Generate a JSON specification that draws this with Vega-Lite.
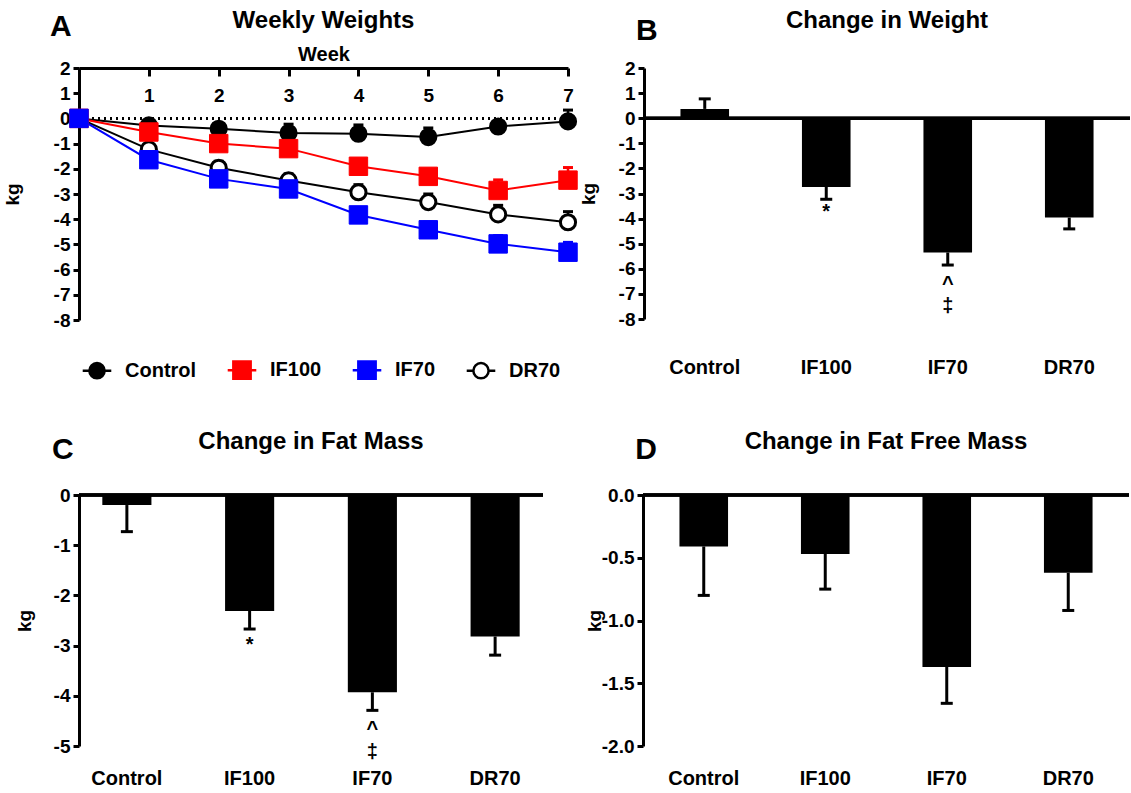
{
  "$schema": "https://vega.github.io/schema/vega-lite/v6.json",
  "padding": {"left": 3, "top": 8, "right": 0, "bottom": 0},
  "background": "white",
  "config": {
    "font": "Liberation Sans",
    "view": {"stroke": null},
    "title": {"font": "Liberation Sans", "fontSize": 24, "fontWeight": "bold", "color": "black"},
    "axis": {"labelFont": "Liberation Sans", "labelFontSize": 19, "labelFontWeight": "bold", "labelColor": "black", "titleFont": "Liberation Sans", "titleFontSize": 19, "titleFontWeight": "bold", "titleColor": "black", "domainColor": "black", "domainWidth": 3, "tickColor": "black", "tickWidth": 3, "tickSize": 7, "grid": false, "labelPadding": 3, "labelOverlap": false},
    "legend": {"labelFont": "Liberation Sans", "labelFontSize": 20, "labelFontWeight": "bold", "labelColor": "black"}
  },
  "datasets": {
    "weekly": [
      {"week": 0, "group": "Control", "kg": 0, "errEnd": 0},
      {"week": 1, "group": "Control", "kg": -0.28, "errEnd": -0.08},
      {"week": 2, "group": "Control", "kg": -0.41, "errEnd": -0.21},
      {"week": 3, "group": "Control", "kg": -0.58, "errEnd": -0.23},
      {"week": 4, "group": "Control", "kg": -0.61, "errEnd": -0.26},
      {"week": 5, "group": "Control", "kg": -0.74, "errEnd": -0.38},
      {"week": 6, "group": "Control", "kg": -0.32, "errEnd": -0.12},
      {"week": 7, "group": "Control", "kg": -0.12, "errEnd": 0.33},
      {"week": 0, "group": "DR70", "kg": 0, "errEnd": 0},
      {"week": 1, "group": "DR70", "kg": -1.23, "errEnd": -1.0},
      {"week": 2, "group": "DR70", "kg": -1.96, "errEnd": -1.7},
      {"week": 3, "group": "DR70", "kg": -2.46, "errEnd": -2.2},
      {"week": 4, "group": "DR70", "kg": -2.93, "errEnd": -2.63},
      {"week": 5, "group": "DR70", "kg": -3.32, "errEnd": -3.0},
      {"week": 6, "group": "DR70", "kg": -3.81, "errEnd": -3.45},
      {"week": 7, "group": "DR70", "kg": -4.12, "errEnd": -3.7},
      {"week": 0, "group": "IF100", "kg": 0, "errEnd": 0},
      {"week": 1, "group": "IF100", "kg": -0.54, "errEnd": -0.34},
      {"week": 2, "group": "IF100", "kg": -1.0, "errEnd": -0.8},
      {"week": 3, "group": "IF100", "kg": -1.2, "errEnd": -0.98},
      {"week": 4, "group": "IF100", "kg": -1.9, "errEnd": -1.66},
      {"week": 5, "group": "IF100", "kg": -2.3, "errEnd": -2.04},
      {"week": 6, "group": "IF100", "kg": -2.86, "errEnd": -2.44},
      {"week": 7, "group": "IF100", "kg": -2.45, "errEnd": -1.95},
      {"week": 0, "group": "IF70", "kg": 0, "errEnd": 0},
      {"week": 1, "group": "IF70", "kg": -1.64, "errEnd": -1.42},
      {"week": 2, "group": "IF70", "kg": -2.4, "errEnd": -2.15},
      {"week": 3, "group": "IF70", "kg": -2.8, "errEnd": -2.55},
      {"week": 4, "group": "IF70", "kg": -3.83, "errEnd": -3.55},
      {"week": 5, "group": "IF70", "kg": -4.42, "errEnd": -4.12},
      {"week": 6, "group": "IF70", "kg": -4.98, "errEnd": -4.65},
      {"week": 7, "group": "IF70", "kg": -5.31, "errEnd": -4.92}
    ],
    "bars": [
      {"panel": "B", "group": "Control", "value": 0.37, "errEnd": 0.77},
      {"panel": "B", "group": "IF100", "value": -2.74, "errEnd": -3.23},
      {"panel": "B", "group": "IF70", "value": -5.35, "errEnd": -5.85},
      {"panel": "B", "group": "DR70", "value": -3.96, "errEnd": -4.41},
      {"panel": "C", "group": "Control", "value": -0.2, "errEnd": -0.73},
      {"panel": "C", "group": "IF100", "value": -2.31, "errEnd": -2.67},
      {"panel": "C", "group": "IF70", "value": -3.93, "errEnd": -4.29},
      {"panel": "C", "group": "DR70", "value": -2.82, "errEnd": -3.19},
      {"panel": "D", "group": "Control", "value": -0.41, "errEnd": -0.8},
      {"panel": "D", "group": "IF100", "value": -0.47, "errEnd": -0.75},
      {"panel": "D", "group": "IF70", "value": -1.37, "errEnd": -1.66},
      {"panel": "D", "group": "DR70", "value": -0.62, "errEnd": -0.92}
    ],
    "notes": [
      {"panel": "B", "group": "IF100", "y": -3.75, "label": "*"},
      {"panel": "B", "group": "IF70", "y": -6.6, "label": "^"},
      {"panel": "B", "group": "IF70", "y": -7.5, "label": "‡"},
      {"panel": "C", "group": "IF100", "y": -2.98, "label": "*"},
      {"panel": "C", "group": "IF70", "y": -4.66, "label": "^"},
      {"panel": "C", "group": "IF70", "y": -5.12, "label": "‡"}
    ]
  },
  "columns": 1,
  "align": "none",
  "spacing": 38,
  "concat": [
    {
      "spacing": -4,
      "hconcat": [
        {
          "title": {"text": "A", "anchor": "start", "fontSize": 30, "dy": 37, "dx": 47},
          "resolve": {"scale": {"fill": "independent", "stroke": "independent", "shape": "independent"}, "legend": {"fill": "independent", "stroke": "independent", "shape": "independent"}},
          "vconcat": [
            {
              "title": {"text": "Weekly Weights", "frame": "group", "anchor": "middle", "offset": 12},
              "width": 489,
              "height": 252,
              "data": {"name": "weekly"},
              "layer": [
                {
                  "mark": {"type": "rule", "strokeDash": [2, 4], "strokeWidth": 2, "color": "black"},
                  "encoding": {"y": {"datum": 0, "type": "quantitative"}}
                },
                {
                  "mark": {"type": "line", "strokeWidth": 2},
                  "encoding": {
                    "x": {"field": "week", "type": "quantitative", "scale": {"domain": [0, 7], "nice": false, "zero": false},
                      "axis": {"orient": "top", "values": [0, 1, 2, 3, 4, 5, 6, 7], "format": "d", "labelExpr": "datum.value == 0 ? '' : datum.label", "tickSize": -8, "labelPadding": -29, "labelFlush": false, "labelFontSize": 19, "title": "Week", "titleFontSize": 20, "titlePadding": 2}},
                    "y": {"field": "kg", "type": "quantitative", "scale": {"domain": [-8, 2], "nice": false},
                      "axis": {"values": [-8, -7, -6, -5, -4, -3, -2, -1, 0, 1, 2], "tickCount": 11, "labelOverlap": false, "labelExpr": "replace(datum.label, '\u2212', '-')", "title": "kg", "titlePadding": 31, "tickSize": 6}},
                    "stroke": {"field": "group", "type": "nominal", "scale": {"domain": ["Control", "IF100", "IF70", "DR70"], "range": ["black", "red", "blue", "black"]}}
                  }
                },
                {
                  "mark": {"type": "rule", "strokeWidth": 2.5},
                  "encoding": {
                    "x": {"field": "week", "type": "quantitative"},
                    "y": {"field": "kg", "type": "quantitative"},
                    "y2": {"field": "errEnd"},
                    "stroke": {"field": "group", "type": "nominal"}
                  }
                },
                {
                  "mark": {"type": "rule", "strokeWidth": 3, "xOffset": -5, "x2Offset": 5},
                  "encoding": {
                    "x": {"field": "week", "type": "quantitative"},
                    "x2": {"field": "week"},
                    "y": {"field": "errEnd", "type": "quantitative"},
                    "stroke": {"field": "group", "type": "nominal"}
                  }
                },
                {
                  "transform": [{"filter": "datum.group == 'Control' || datum.group == 'DR70'"}],
                  "mark": {"type": "point", "shape": "circle", "size": 230, "strokeWidth": 3, "opacity": 1},
                  "encoding": {
                    "x": {"field": "week", "type": "quantitative"},
                    "y": {"field": "kg", "type": "quantitative"},
                    "fill": {"field": "group", "type": "nominal", "scale": {"domain": ["Control", "IF100", "IF70", "DR70"], "range": ["black", "red", "blue", "white"]}},
                    "stroke": {"field": "group", "type": "nominal"}
                  }
                },
                {
                  "transform": [{"filter": "datum.group == 'IF100' || datum.group == 'IF70'"}],
                  "mark": {"type": "point", "shape": "square", "size": 340, "strokeWidth": 1, "opacity": 1},
                  "encoding": {
                    "x": {"field": "week", "type": "quantitative"},
                    "y": {"field": "kg", "type": "quantitative"},
                    "fill": {"field": "group", "type": "nominal"},
                    "stroke": {"field": "group", "type": "nominal"}
                  }
                },
                {
                  "mark": {"type": "point", "size": 300, "strokeWidth": 2.5, "opacity": 0},
                  "encoding": {
                    "x": {"field": "week", "type": "quantitative"},
                    "y": {"field": "kg", "type": "quantitative"},
                    "fill": {"field": "group", "type": "nominal", "legend": {"title": null, "orient": "bottom", "direction": "horizontal", "offset": 32, "padding": 8, "symbolSize": 300, "symbolStrokeWidth": 2.5, "labelOffset": 18, "columnPadding": 25, "encode": {"symbols": {"update": {"opacity": {"value": 1}}}}}},
                    "stroke": {"field": "group", "type": "nominal", "legend": {"title": null, "orient": "bottom", "direction": "horizontal", "offset": 32, "padding": 8, "symbolSize": 300, "symbolStrokeWidth": 2.5, "labelOffset": 18, "columnPadding": 25, "encode": {"symbols": {"update": {"opacity": {"value": 1}}}}}},
                    "shape": {"field": "group", "type": "nominal",
                      "scale": {"domain": ["Control", "IF100", "IF70", "DR70"], "range": [
                        "M-1.65,0L-0.88,0M0.88,0L1.65,0M0.88,0A0.88,0.88,0,1,1,-0.88,0A0.88,0.88,0,1,1,0.88,0Z",
                        "M-1.65,0L-1,0M1,0L1.65,0M-1,-1L1,-1L1,1L-1,1Z",
                        "M-1.65,0L-1,0M1,0L1.65,0M-1,-1L1,-1L1,1L-1,1Z",
                        "M-1.65,0L-0.88,0M0.88,0L1.65,0M0.88,0A0.88,0.88,0,1,1,-0.88,0A0.88,0.88,0,1,1,0.88,0Z"]},
                      "legend": {"title": null, "orient": "bottom", "direction": "horizontal", "offset": 32, "padding": 8, "symbolSize": 300, "symbolStrokeWidth": 2.5, "labelOffset": 18, "columnPadding": 25, "encode": {"symbols": {"update": {"opacity": {"value": 1}}}}}}
                  }
                }
              ]
            }
          ]
        },
        {
          "title": {"text": "B", "anchor": "start", "fontSize": 30, "dy": 41, "dx": 57},
          "vconcat": [
            {
              "title": {"text": "Change in Weight", "frame": "group", "anchor": "middle", "offset": 26},
              "width": 486,
              "height": 251,
              "data": {"name": "bars"},
              "transform": [{"filter": "datum.panel == 'B'"}],
              "layer": [
                {
                  "mark": {"type": "bar", "color": "black", "opacity": 1},
                  "encoding": {
                    "x": {"field": "group", "type": "nominal", "sort": null, "scale": {"type": "band", "domain": ["Control", "IF100", "IF70", "DR70"], "paddingInner": 0.6, "paddingOuter": 0.3},
                      "axis": {"title": null, "domain": false, "ticks": false, "labelAngle": 0, "labelFontSize": 20, "labelPadding": 38}},
                    "y": {"field": "value", "type": "quantitative", "scale": {"domain": [-8, 2], "nice": false},
                      "axis": {"values": [-8, -7, -6, -5, -4, -3, -2, -1, 0, 1, 2], "tickCount": 11, "labelOverlap": false, "labelExpr": "replace(datum.label, '\u2212', '-')", "title": "kg", "titlePadding": 20, "tickSize": 6}}
                  }
                },
                {
                  "mark": {"type": "rule", "strokeWidth": 3, "color": "black"},
                  "encoding": {
                    "x": {"field": "group", "type": "nominal"},
                    "y": {"field": "value", "type": "quantitative"},
                    "y2": {"field": "errEnd"}
                  }
                },
                {
                  "mark": {"type": "tick", "orient": "horizontal", "size": 12, "thickness": 3, "color": "black", "opacity": 1},
                  "encoding": {
                    "x": {"field": "group", "type": "nominal"},
                    "y": {"field": "errEnd", "type": "quantitative"}
                  }
                },
                {
                  "mark": {"type": "rule", "strokeWidth": 3, "color": "black"},
                  "encoding": {"y": {"datum": 0, "type": "quantitative"}}
                },
                {
                  "data": {"name": "notes"},
                  "transform": [{"filter": "datum.panel == 'B'"}],
                  "mark": {"type": "text", "fontSize": 20, "fontWeight": "bold", "baseline": "middle", "align": "center", "color": "black"},
                  "encoding": {
                    "x": {"field": "group", "type": "nominal"},
                    "y": {"field": "y", "type": "quantitative"},
                    "text": {"field": "label"}
                  }
                }
              ]
            }
          ]
        }
      ]
    },
    {
      "spacing": 40,
      "hconcat": [
        {
          "title": {"text": "C", "anchor": "start", "fontSize": 30, "dy": 39, "dx": 37},
          "vconcat": [
            {
              "title": {"text": "Change in Fat Mass", "frame": "group", "anchor": "middle", "offset": 32},
              "width": 464,
              "height": 251,
              "data": {"name": "bars"},
              "transform": [{"filter": "datum.panel == 'C'"}],
              "layer": [
                {
                  "mark": {"type": "bar", "color": "black", "opacity": 1},
                  "encoding": {
                    "x": {"field": "group", "type": "nominal", "sort": null, "scale": {"type": "band", "domain": ["Control", "IF100", "IF70", "DR70"], "paddingInner": 0.6, "paddingOuter": 0.19},
                      "axis": {"title": null, "domain": false, "ticks": false, "labelAngle": 0, "labelFontSize": 20, "labelPadding": 22}},
                    "y": {"field": "value", "type": "quantitative", "scale": {"domain": [-5, 0], "nice": false},
                      "axis": {"values": [-5, -4, -3, -2, -1, 0], "tickCount": 6, "labelOverlap": false, "labelExpr": "replace(datum.label, '\u2212', '-')", "title": "kg", "titlePadding": 19, "tickSize": 6}}
                  }
                },
                {
                  "mark": {"type": "rule", "strokeWidth": 3, "color": "black"},
                  "encoding": {
                    "x": {"field": "group", "type": "nominal"},
                    "y": {"field": "value", "type": "quantitative"},
                    "y2": {"field": "errEnd"}
                  }
                },
                {
                  "mark": {"type": "tick", "orient": "horizontal", "size": 12, "thickness": 3, "color": "black", "opacity": 1},
                  "encoding": {
                    "x": {"field": "group", "type": "nominal"},
                    "y": {"field": "errEnd", "type": "quantitative"}
                  }
                },
                {
                  "mark": {"type": "rule", "strokeWidth": 3, "color": "black"},
                  "encoding": {"y": {"datum": 0, "type": "quantitative"}}
                },
                {
                  "data": {"name": "notes"},
                  "transform": [{"filter": "datum.panel == 'C'"}],
                  "mark": {"type": "text", "fontSize": 20, "fontWeight": "bold", "baseline": "middle", "align": "center", "color": "black"},
                  "encoding": {
                    "x": {"field": "group", "type": "nominal"},
                    "y": {"field": "y", "type": "quantitative"},
                    "text": {"field": "label"}
                  }
                }
              ]
            }
          ]
        },
        {
          "title": {"text": "D", "anchor": "start", "fontSize": 30, "dy": 39, "dx": 50},
          "vconcat": [
            {
              "title": {"text": "Change in Fat Free Mass", "frame": "group", "anchor": "middle", "offset": 32},
              "width": 486,
              "height": 251,
              "data": {"name": "bars"},
              "transform": [{"filter": "datum.panel == 'D'"}],
              "layer": [
                {
                  "mark": {"type": "bar", "color": "black", "opacity": 1},
                  "encoding": {
                    "x": {"field": "group", "type": "nominal", "sort": null, "scale": {"type": "band", "domain": ["Control", "IF100", "IF70", "DR70"], "paddingInner": 0.6, "paddingOuter": 0.3},
                      "axis": {"title": null, "domain": false, "ticks": false, "labelAngle": 0, "labelFontSize": 20, "labelPadding": 22}},
                    "y": {"field": "value", "type": "quantitative", "scale": {"domain": [-2, 0], "nice": false},
                      "axis": {"values": [-2, -1.5, -1, -0.5, 0], "tickCount": 5, "labelOverlap": false, "format": ".1f", "labelExpr": "replace(datum.label, '\u2212', '-')", "title": "kg", "titlePadding": -3, "tickSize": 6}}
                  }
                },
                {
                  "mark": {"type": "rule", "strokeWidth": 3, "color": "black"},
                  "encoding": {
                    "x": {"field": "group", "type": "nominal"},
                    "y": {"field": "value", "type": "quantitative"},
                    "y2": {"field": "errEnd"}
                  }
                },
                {
                  "mark": {"type": "tick", "orient": "horizontal", "size": 12, "thickness": 3, "color": "black", "opacity": 1},
                  "encoding": {
                    "x": {"field": "group", "type": "nominal"},
                    "y": {"field": "errEnd", "type": "quantitative"}
                  }
                },
                {
                  "mark": {"type": "rule", "strokeWidth": 3, "color": "black"},
                  "encoding": {"y": {"datum": 0, "type": "quantitative"}}
                }
              ]
            }
          ]
        }
      ]
    }
  ]
}
